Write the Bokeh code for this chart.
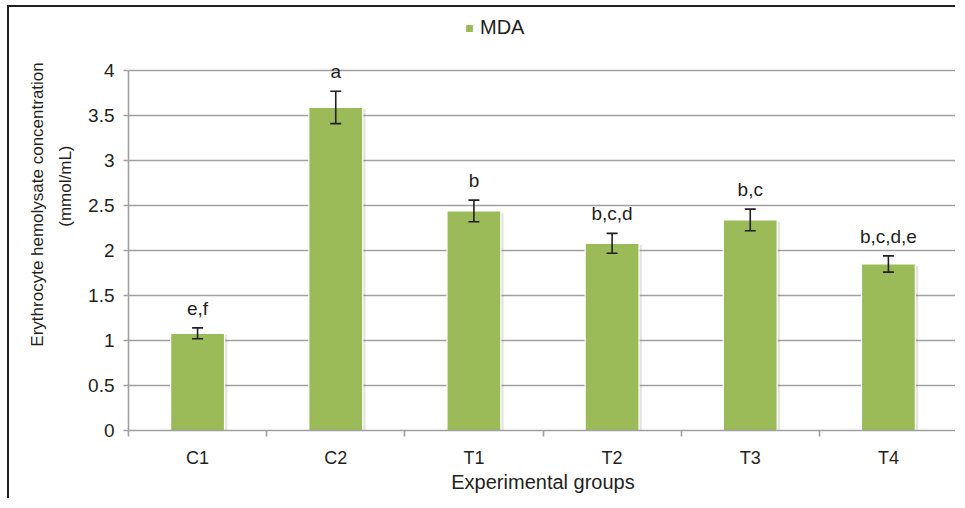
import numpy as np
from bokeh.plotting import figure
from bokeh.models import (ColumnDataSource, Whisker, TeeHead, FixedTicker, Range1d,
                          Legend, LegendItem, Title)
from bokeh.core.properties import value
from bokeh.transform import dodge
from bokeh.embed import file_html
from bokeh.resources import INLINE

# ---- data ----
groups = ["C1", "C2", "T1", "T2", "T3", "T4"]
mda = [1.08, 3.59, 2.44, 2.08, 2.34, 1.85]
mda_sd = [0.06, 0.18, 0.12, 0.11, 0.12, 0.09]
letters = ["e,f", "a", "b", "b,c,d", "b,c", "b,c,d,e"]
y_ticks = [0, 0.5, 1, 1.5, 2, 2.5, 3, 3.5, 4]
y_max = 4

FONT = "Liberation Sans"
TXT = "#231f20"
GRID = "#a0a0a0"
BAR = "#9bbb59"

xpos = [i + 0.5 for i in range(len(groups))]
src = ColumnDataSource(dict(
    x=xpos,
    top=mda,
    upper=[m + s for m, s in zip(mda, mda_sd)],
    lower=[m - s for m, s in zip(mda, mda_sd)],
    lab=letters,
))

# frame reaches up to the top border so the legend can sit above the plot area
p = figure(width=948, height=493, output_backend="svg", toolbar_location=None,
           x_range=Range1d(0, len(groups)), y_range=Range1d(0, y_max + 0.7),
           min_border_left=119, min_border_right=0, min_border_top=0,
           min_border_bottom=70, outline_line_color=None)
p.styles = {"border-top": "2px solid #231f20", "border-left": "2px solid #231f20",
            "margin-left": "7px", "margin-top": "5px"}

# grid
p.xgrid.grid_line_color = None
p.ygrid.ticker = FixedTicker(ticks=y_ticks)
p.ygrid.grid_line_color = GRID
p.ygrid.grid_line_width = 1.6

# shadow + bars
shadow_src = ColumnDataSource(dict(x=xpos, top=[m - 0.02 for m in mda]))
p.vbar(x=dodge("x", 0.02, range=p.x_range), top="top", bottom=0, width=0.39,
       source=shadow_src, fill_color="#7f7f7f", fill_alpha=0.22, line_color=None)
bars = p.vbar(x="x", top="top", bottom=0, width=0.39, source=src,
              fill_color=BAR, line_color="white", line_width=1.2)

# error bars
p.add_layout(Whisker(base="x", upper="upper", lower="lower", source=src,
                     level="overlay", line_color=TXT, line_width=1.6,
                     upper_head=TeeHead(size=11, line_color=TXT, line_width=1.6),
                     lower_head=TeeHead(size=11, line_color=TXT, line_width=1.6)))

# significance letters
p.text(x="x", y="upper", text="lab", source=src, y_offset=-9,
       text_align="center", text_baseline="bottom",
       text_font=value(FONT), text_font_size="19px", text_color=TXT)

# x axis
xa = p.xaxis[0]
xa.ticker = FixedTicker(ticks=xpos, minor_ticks=list(range(len(groups) + 1)))
xa.major_label_overrides = {x: g for x, g in zip(xpos, groups)}
xa.major_tick_out = 0
xa.major_tick_in = 0
xa.minor_tick_out = 6
xa.minor_tick_in = 0
xa.minor_tick_line_color = GRID
xa.minor_tick_line_width = 1.6
xa.axis_line_color = GRID
xa.axis_line_width = 1.6
xa.major_label_text_font = FONT
xa.major_label_text_font_size = "18px"
xa.major_label_text_color = TXT
xa.major_label_standoff = 11
xa.axis_label = "Experimental groups"
xa.axis_label_text_font = FONT
xa.axis_label_text_font_size = "20px"
xa.axis_label_text_font_style = "normal"
xa.axis_label_text_color = TXT
xa.axis_label_standoff = 0

# y axis
ya = p.yaxis[0]
ya.ticker = FixedTicker(ticks=y_ticks)
ya.bounds = (0, y_max)
ya.major_label_overrides = {t: f"{t:g}" for t in y_ticks}
ya.major_tick_out = 5
ya.major_tick_in = 0
ya.minor_tick_out = 0
ya.minor_tick_in = 0
ya.major_tick_line_color = GRID
ya.major_tick_line_width = 1.6
ya.axis_line_color = GRID
ya.axis_line_width = 1.6
ya.major_label_text_font = FONT
ya.major_label_text_font_size = "19px"
ya.major_label_text_color = TXT
ya.major_label_standoff = 9

# y axis title (two lines, as in reference)
p.add_layout(Title(text="(mmol/mL)", align="right", offset=138,
                   vertical_align="top", standoff=18,
                   text_font=FONT, text_font_size="17px", text_font_style="normal",
                   text_color=TXT), "left")
p.add_layout(Title(text="Erythrocyte hemolysate  concentration", align="right",
                   offset=50, vertical_align="bottom", standoff=0,
                   text_font=FONT, text_font_size="17px", text_font_style="normal",
                   text_color=TXT), "left")

# legend
legend = Legend(items=[LegendItem(label="MDA", renderers=[bars])],
                location=(336, 391), orientation="horizontal",
                glyph_width=10, glyph_height=10, label_standoff=6,
                padding=0, margin=0, border_line_color=None,
                background_fill_alpha=0, label_text_font=FONT,
                label_text_font_size="20px", label_text_color=TXT)
p.add_layout(legend, "center")

open("out.html", "w").write(file_html(p, INLINE))
